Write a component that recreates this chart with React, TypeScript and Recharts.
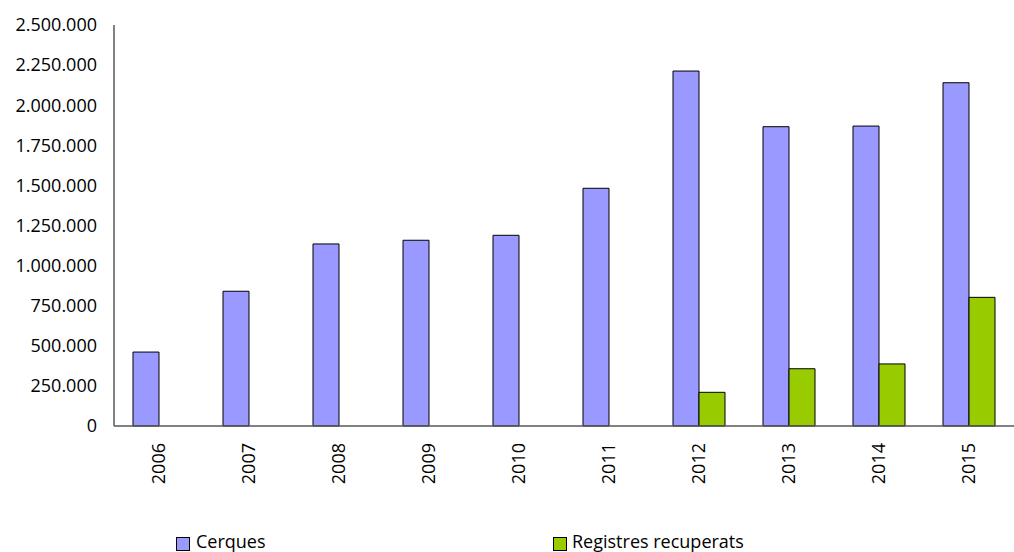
import React from 'react';
import { BarChart, Bar, XAxis, YAxis, Legend } from 'recharts';

const years = ['2006', '2007', '2008', '2009', '2010', '2011', '2012', '2013', '2014', '2015'];
const cerques = [461000, 840000, 1135000, 1158000, 1189000, 1482000, 2213000, 1866000, 1870000, 2140000];
const registres: (number | null)[] = [null, null, null, null, null, null, 210000, 357000, 387000, 802000];
const yTicks = [0, 250000, 500000, 750000, 1000000, 1250000, 1500000, 1750000, 2000000, 2250000, 2500000];

const seriesNames = { cerques: 'Cerques', registres: 'Registres recuperats' };
const colors = { cerques: '#9999FF', registres: '#99CC00' };

const data = years.map((y, i) => ({ year: y, cerques: cerques[i], registres: registres[i] }));

const fmt = (v: number) => {
  const s = String(Math.round(v));
  return s.replace(/\B(?=(\d{3})+(?!\d))/g, '.');
};

const FONT = '"Open Sans", "DejaVu Sans", sans-serif';

const XTick = (props: any) => {
  const { x, y, payload } = props;
  return (
    <text
      x={x}
      y={y}
      dy="0.36em"
      transform={`rotate(-90, ${x}, ${y})`}
      textAnchor="end"
      fontFamily={FONT}
      fontSize={18}
      fill="#000"
    >
      {payload.value}
    </text>
  );
};

const LegendContent = () => (
  <svg width={1014} height={24} style={{ display: 'block', overflow: 'visible' }}>
    <rect x={176.5} y={9.5} width={13} height={13} fill={colors.cerques} stroke="#000" strokeWidth={1} />
    <text x={196} y={20} fontFamily={FONT} fontSize={18} fill="#000">{seriesNames.cerques}</text>
    <rect x={553.5} y={9.5} width={13} height={13} fill={colors.registres} stroke="#000" strokeWidth={1} />
    <text x={572} y={20} fontFamily={FONT} fontSize={18} fill="#000">{seriesNames.registres}</text>
  </svg>
);

export default function App() {
  return (
    <div style={{ position: 'absolute', left: 0, top: 0, width: 1014, height: 552, background: '#fff' }}>
      <BarChart
        width={1014}
        height={552}
        data={data}
        margin={{ top: 25, right: 0, bottom: 0, left: 0 }}
        barGap={0}
        barSize={26}
      >
        <XAxis
          dataKey="year"
          height={126}
          interval={0}
          axisLine={{ stroke: '#595959', strokeWidth: 1.5 }}
          tickLine={false}
          tickSize={0}
          tickMargin={17}
          tick={<XTick />}
        />
        <YAxis
          width={114}
          domain={[0, 2500000]}
          ticks={yTicks}
          interval={0}
          tickFormatter={fmt}
          axisLine={{ stroke: '#595959', strokeWidth: 1.5 }}
          tickLine={false}
          tickSize={0}
          tickMargin={17}
          tick={{ fontFamily: FONT, fontSize: 18, fill: '#000' }}
        />
        <Legend
          layout="horizontal"
          verticalAlign="middle"
          align="center"
          wrapperStyle={{ top: 528, left: 0, width: 1014, height: 24 }}
          content={() => <LegendContent />}
        />
        <Bar dataKey="cerques" name={seriesNames.cerques} fill={colors.cerques} stroke="#000" strokeWidth={1} isAnimationActive={false} />
        <Bar dataKey="registres" name={seriesNames.registres} fill={colors.registres} stroke="#000" strokeWidth={1} isAnimationActive={false} />
      </BarChart>
    </div>
  );
}
